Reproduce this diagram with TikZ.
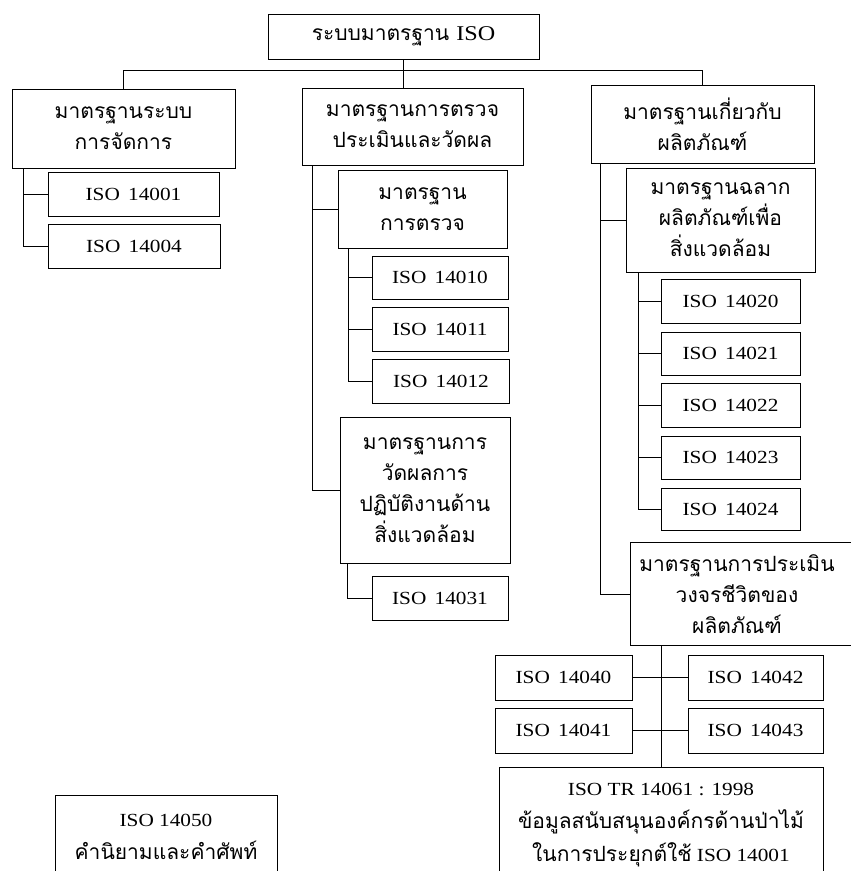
\documentclass[tikz,border=0pt]{standalone}
\usepackage{fontspec}
\setmainfont{Liberation Serif}
\newfontfamily\thai[Script=Thai]{Loma}
\newfontfamily\isof[FakeStretch=1.15]{Liberation Serif}
\newcommand\isoN[1]{ISO\hskip0.45em\relax #1}
\newcommand\thaitext{\thai\fontsize{21}{31}\selectfont}
\tikzset{
  box/.style={draw, line width=1pt, inner sep=0pt, align=center},
  th/.style={font=\thai\fontsize{21}{31}\selectfont},
  iso/.style={font=\isof\fontsize{18.5}{22}\selectfont},
  isotall/.style={font=\isof\fontsize{18.5}{33}\selectfont},
  link/.style={line width=1pt},
}
\begin{document}
\begin{tikzpicture}[x=1pt,y=-1pt]
\useasboundingbox (0,0) rectangle (851,871);
\clip (0,0) rectangle (851,871);
% level 0
\node[box,th,minimum width=271,minimum height=45] (root) at (403.5,36.5) {ระบบมาตรฐาน {\isof ISO}};
% level 1
\node[box,th,minimum width=223,minimum height=79] (A) at (123.5,128.5) {มาตรฐานระบบ\\การจัดการ};
\node[box,th,minimum width=221,minimum height=77] (B) at (412.5,126.5) {มาตรฐานการตรวจ\\ประเมินและวัดผล};
\node[box,th,minimum width=223,minimum height=78] (C) at (702.5,124) {มาตรฐานเกี่ยวกับ\\ผลิตภัณฑ์};
% branch A
\node[box,iso,minimum width=171,minimum height=44] (i14001) at (133.5,194) {\isoN{14001}};
\node[box,iso,minimum width=172,minimum height=44] (i14004) at (134,246) {\isoN{14004}};
% branch B
\node[box,th,minimum width=169,minimum height=78] (audit) at (422.5,209) {มาตรฐาน\\การตรวจ};
\node[box,iso,minimum width=136,minimum height=43] (i14010) at (440,277.5) {\isoN{14010}};
\node[box,iso,minimum width=136,minimum height=44] (i14011) at (440,329) {\isoN{14011}};
\node[box,iso,minimum width=137,minimum height=44] (i14012) at (441,381) {\isoN{14012}};
\node[box,th,minimum width=170,minimum height=146] (perf) at (425,490) {มาตรฐานการ\\วัดผลการ\\ปฏิบัติงานด้าน\\สิ่งแวดล้อม};
\node[box,iso,minimum width=136,minimum height=44] (i14031) at (440,598) {\isoN{14031}};
% branch C
\node[box,th,minimum width=189,minimum height=104] (label) at (720.5,220) {มาตรฐานฉลาก\\ผลิตภัณฑ์เพื่อ\\สิ่งแวดล้อม};
\node[box,iso,minimum width=139,minimum height=44] (i14020) at (730.5,301) {\isoN{14020}};
\node[box,iso,minimum width=139,minimum height=43] (i14021) at (730.5,353.5) {\isoN{14021}};
\node[box,iso,minimum width=139,minimum height=44] (i14022) at (730.5,405) {\isoN{14022}};
\node[box,iso,minimum width=139,minimum height=43] (i14023) at (730.5,457.5) {\isoN{14023}};
\node[box,iso,minimum width=139,minimum height=42] (i14024) at (730.5,509) {\isoN{14024}};
\node[th,inner sep=0pt,align=center,minimum width=212,minimum height=102] (lca) at (737,594) {มาตรฐานการประเมิน\\วงจรชีวิตของ\\ผลิตภัณฑ์};
\draw[link] ([xshift=40]lca.north east) -- (lca.north west) -- (lca.south west) -- ([xshift=40]lca.south east);
\node[box,iso,minimum width=137,minimum height=45] (i14040) at (563.5,677.5) {\isoN{14040}};
\node[box,iso,minimum width=137,minimum height=45] (i14041) at (563.5,730.5) {\isoN{14041}};
\node[box,iso,minimum width=135,minimum height=45] (i14042) at (755.5,677.5) {\isoN{14042}};
\node[box,iso,minimum width=135,minimum height=45] (i14043) at (755.5,730.5) {\isoN{14043}};
\node[box,isotall,minimum width=324,minimum height=116] (tr) at (661,825) {ISO TR 14061 : 1998\\{\thaitext ข้อมูลสนับสนุนองค์กรด้านป่าไม้}\\{\thaitext ในการประยุกต์ใช้} ISO 14001};
% separate
\node[box,isotall,minimum width=222,minimum height=84] (i14050) at (166,837) {ISO 14050\\{\thaitext คำนิยามและคำศัพท์}};
% connectors
\draw[link] (root.south) -- (root.south |- B.north);
\draw[link] (A.north) -- ++(0,-18) -| (C.north);
\draw[link] ([xshift=12]A.south west) |- (i14001.west);
\draw[link] ([xshift=12]A.south west) |- (i14004.west);
\draw[link] ([xshift=11]B.south west) |- (audit.west);
\draw[link] ([xshift=11]B.south west) |- (perf.west);
\draw[link] ([xshift=11]audit.south west) |- (i14010.west);
\draw[link] ([xshift=11]audit.south west) |- (i14011.west);
\draw[link] ([xshift=11]audit.south west) |- (i14012.west);
\draw[link] ([xshift=8]perf.south west) |- (i14031.west);
\draw[link] ([xshift=10]C.south west) |- (label.west);
\draw[link] ([xshift=10]C.south west) |- (lca.west);
\draw[link] ([xshift=13]label.south west) |- (i14020.west);
\draw[link] ([xshift=13]label.south west) |- (i14021.west);
\draw[link] ([xshift=13]label.south west) |- (i14022.west);
\draw[link] ([xshift=13]label.south west) |- (i14023.west);
\draw[link] ([xshift=13]label.south west) |- (i14024.west);
\draw[link] (tr.north |- lca.south) -- (tr.north);
\draw[link] (i14040.east) -- (i14042.west);
\draw[link] (i14041.east) -- (i14043.west);
\end{tikzpicture}
\end{document}
